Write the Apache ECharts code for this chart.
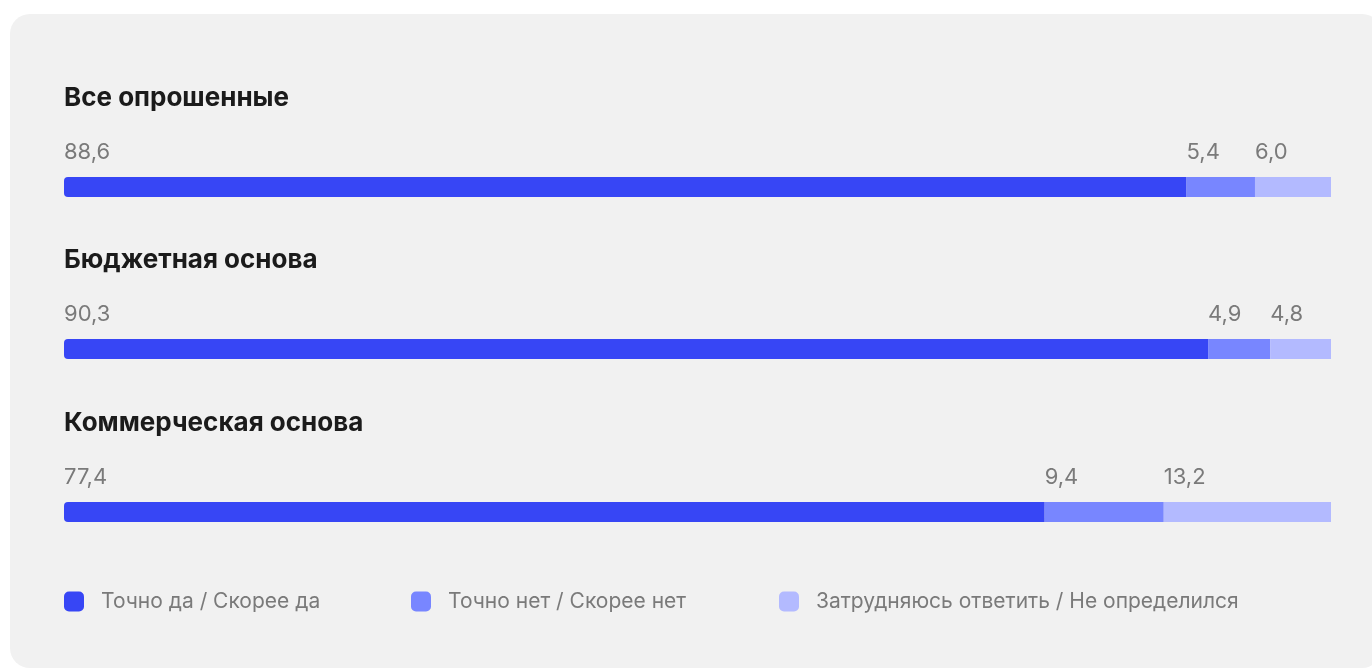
<!DOCTYPE html>
<html>
<head>
<meta charset="utf-8">
<script src="https://cdn.jsdelivr.net/npm/echarts@6/dist/echarts.min.js"></script>
<style>
html,body{margin:0;padding:0;background:#ffffff;}
#chart{width:1372px;height:670px;}
</style>
</head>
<body>
<div id="chart"></div>
<script>
const groups = ['Все опрошенные', 'Бюджетная основа', 'Коммерческая основа'];
const seriesNames = ['Точно да / Скорее да', 'Точно нет / Скорее нет', 'Затрудняюсь ответить / Не определился'];
const yesValues = [88.6, 90.3, 77.4];
const noValues = [5.4, 4.9, 9.4];
const unsureValues = [6.0, 4.8, 13.2];
const colors = ['#3746F5', '#7886FF', '#B3BAFF'];

const valuesBySeries = [yesValues, noValues, unsureValues];
const barTops = [177, 339, 502];
const titleTops = [85, 247, 410];
const fontFamily = 'Inter, "Noto Sans", sans-serif';

const chart = echarts.init(document.getElementById('chart'), null, {renderer: 'canvas'});

const grids = [], xAxes = [], yAxes = [], series = [], titles = [];
groups.forEach((g, gi) => {
  grids.push({left: 64, width: 1267, top: barTops[gi], height: 20, containLabel: false});
  xAxes.push({type: 'value', gridIndex: gi, min: 0, max: 100, show: false});
  yAxes.push({type: 'category', gridIndex: gi, data: [g], show: false});
  titles.push({
    text: g, left: 64, top: titleTops[gi], padding: 0,
    textStyle: {fontFamily, fontSize: 26, fontWeight: 700, color: '#1b1b1b'}
  });
  seriesNames.forEach((name, si) => {
    series.push({
      type: 'bar', name, xAxisIndex: gi, yAxisIndex: gi, stack: 'g' + gi,
      barWidth: 20, silent: true,
      data: [valuesBySeries[si][gi]],
      itemStyle: {color: colors[si], borderRadius: si === 0 ? [4, 0, 0, 4] : 0},
      label: {
        show: true, position: [0, -25], align: 'left', verticalAlign: 'middle',
        fontFamily, fontSize: 22, color: '#7a7a7a',
        formatter: p => p.value.toFixed(1).replace('.', ',')
      }
    });
  });
});

const legendLefts = [64, 411, 779];
const legends = seriesNames.map((name, i) => ({
  data: [name], left: legendLefts[i], top: 591, padding: 0,
  icon: 'roundRect', itemWidth: 20, itemHeight: 20, itemGap: 0,
  selectedMode: false,
  textStyle: {fontFamily, fontSize: 21, color: '#7a7a7a', padding: [0, 0, 0, 12]}
}));

chart.setOption({
  animation: false,
  backgroundColor: '#ffffff',
  graphic: [{
    type: 'rect', z: -10, silent: true,
    shape: {x: 10, y: 14, width: 1372, height: 654, r: 20},
    style: {fill: '#f1f1f1'}
  }],
  title: titles,
  grid: grids,
  xAxis: xAxes,
  yAxis: yAxes,
  legend: legends,
  series
});
</script>
</body>
</html>
